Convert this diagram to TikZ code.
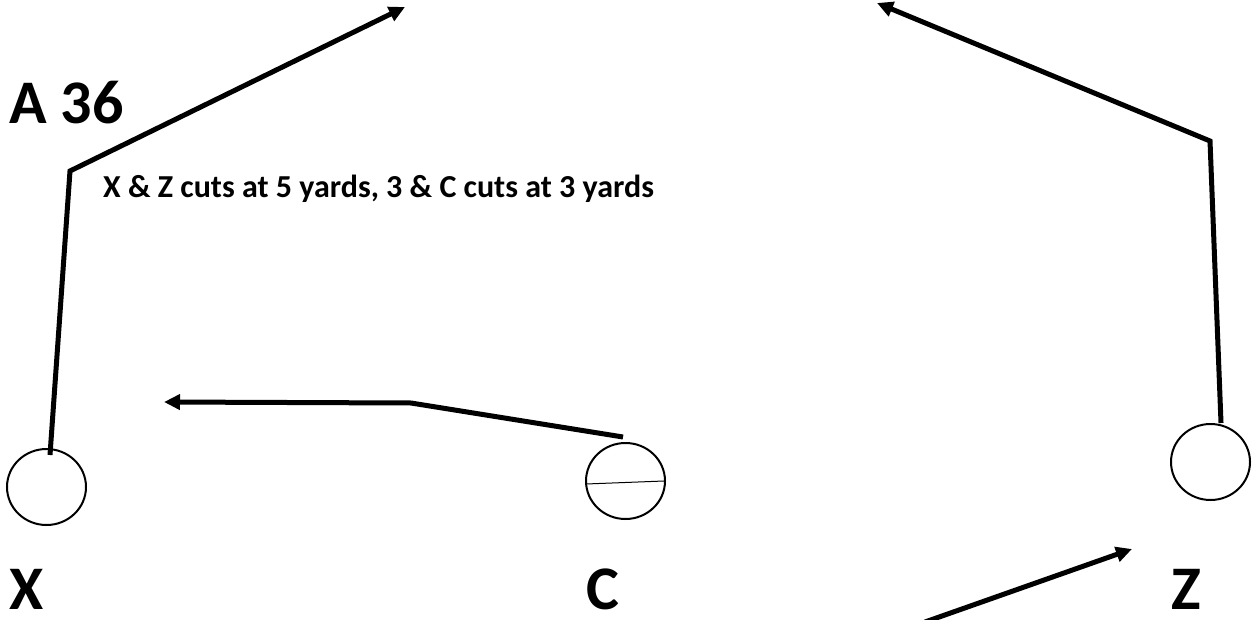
\documentclass[tikz,border=0pt]{standalone}
\usepackage{fontspec}
\setmainfont{Carlito}
\usetikzlibrary{shapes.geometric,arrows.meta}
\begin{document}
\begin{tikzpicture}[x=1pt,y=-1pt,
  player/.style={draw, line width=2pt, ellipse, inner sep=0pt, minimum width=79pt, minimum height=76pt},
  route/.style={line width=5pt, line join=miter},
  routearrow/.style={route, -{Triangle[length=16pt,width=15pt]}},
  biglabel/.style={font=\bfseries\fontsize{62}{62}\selectfont, inner sep=0pt, anchor=base west},
  note/.style={font=\bfseries\fontsize{32}{32}\selectfont, inner sep=0pt, anchor=base west}]
\useasboundingbox (0,0) rectangle (1260,620);
\fill[white] (0,0) rectangle (1260,620);
% players
\node[player] (px) at (46.5,487) {};
\node[player] (pc) at (625.5,481) {};
\node[player] (pz) at (1210.5,462) {};
% labels
\node[biglabel] (title) at (9,124) {A 36};
\node[note] (note) at (103,198) {X \& Z cuts at 5 yards, 3 \& C cuts at 3 yards};
\node[biglabel] (lx) at (9,609) {X};
\node[biglabel] (lc) at (586,609) {C};
\node[biglabel] (lz) at (1171,609) {Z};
% route coordinates
\coordinate (xs) at (50,455);
\coordinate (xk) at (70,171);
\coordinate (xe) at (405,7);
\coordinate (zs) at (1221,423);
\coordinate (zk) at (1210,141);
\coordinate (ze) at (877,3);
\coordinate (cs) at (623,437);
\coordinate (ck) at (411,403);
\coordinate (ce) at (164,402);
\coordinate (bs) at (925,622);
\coordinate (be) at (1132,549);
\coordinate (cl) at (586,484);
\coordinate (cr) at (664,481);
% routes
\draw[routearrow] (xs) -- (xk) -- (xe);
\draw[routearrow] (zs) -- (zk) -- (ze);
\draw[routearrow] (cs) -- (ck) -- (ce);
\draw[routearrow] (bs) -- (be);
\draw[line width=1pt] (cl) -- (cr);
\end{tikzpicture}
\end{document}
